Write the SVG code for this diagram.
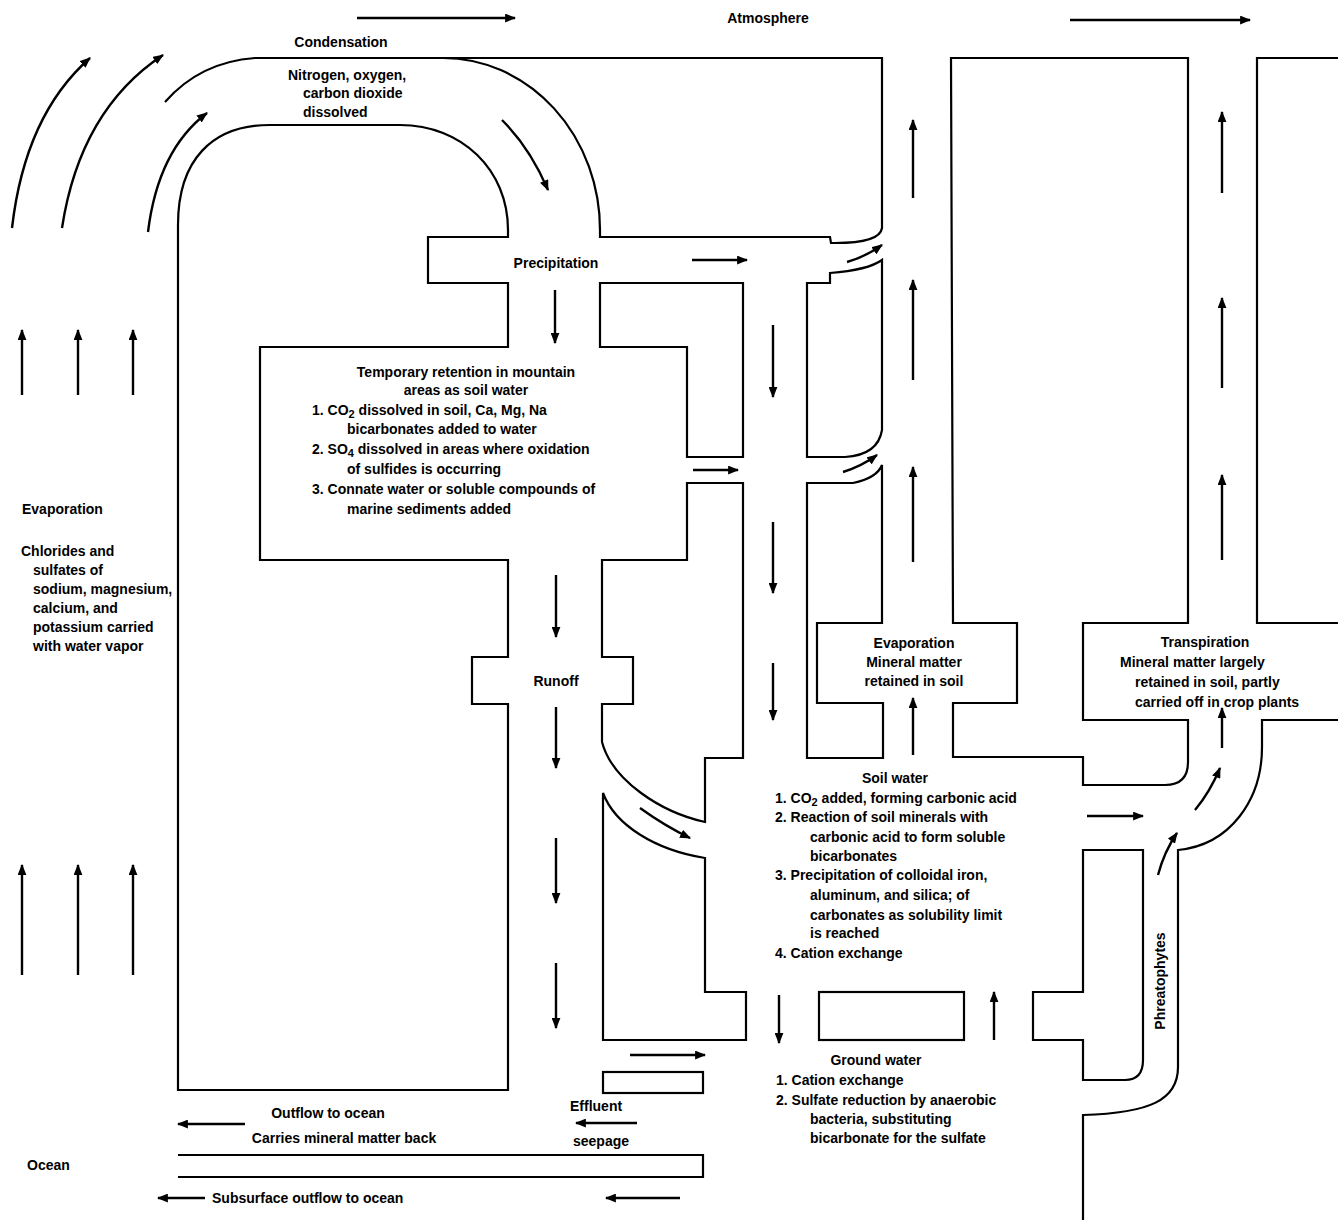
<svg xmlns="http://www.w3.org/2000/svg" width="1338" height="1220" viewBox="0 0 1338 1220">
<style>
.w{fill:none;stroke:#000;stroke-width:2.2;stroke-linejoin:miter}
.a{fill:none;stroke:#000;stroke-width:2.4;marker-end:url(#ah)}
text{font-family:"Liberation Sans",Arial,sans-serif;font-weight:bold;font-size:14px;fill:#000}
.m{text-anchor:middle}
.s{font-size:11px}
</style>
<defs>
<marker id="ah" viewBox="0 0 10 8" refX="9" refY="4" markerWidth="11" markerHeight="9" markerUnits="userSpaceOnUse" orient="auto"><path d="M0,0 L10,4 L0,8 z" fill="#000"/></marker>
</defs>
<rect width="1338" height="1220" fill="#fff"/>
<g id="walls">
<g id="outer-arch"><path class="w" d="M165,102 Q200,62 255,58 L882,58 L882,228 Q880,243 835,243 L831,243 L830,237 L600,237 L600,230 A157,172 0 0 0 443,58"/></g>
<g id="left-block"><path class="w" d="M508,1090 L178,1090 L178,225 C178,160 212,125 270,125 L400,125 C462,125 508,170 508,230 L508,237 L428,237 L428,283 L508,283 L508,347 L260,347 L260,560 L508,560 L508,657 L472,657 L472,704 L508,704 Z"/></g>
<g id="block-p"><path class="w" d="M600,283 L743,283 L743,457 L687,457 L687,347 L600,347 Z"/></g>
<g id="block-c"><path class="w" d="M807,283 L830,283 L830,273 Q868,270 882,260 L882,430 Q878,455 845,457 L807,457 Z"/></g>
<g id="block-d"><path class="w" d="M807,483 L853,483 Q877,478 882,465 L882,623 L817,623 L817,703 L883,703 L883,758 L807,758 Z"/></g>
<g id="block-e"><path class="w" d="M951,58 L1188,58 L1188,623 L1083,623 L1083,720 L1188,720 L1188,762 Q1188,785 1165,785 L1083,785 L1083,757 L953,757 L953,703 L1017,703 L1017,623 L953,623 Z"/></g>
<g id="block-f"><path class="w" d="M1338,58 L1257,58 L1257,623 L1338,623"/></g>
<g id="block-k"><path class="w" d="M687,483 L743,483 L743,758 L705,758 L705,822 C660,812 612,780 602,742 L602,704 L633,704 L633,657 L602,657 L602,560 L687,560 Z"/></g>
<g id="block-h"><path class="w" d="M603,793 C615,825 655,850 705,858 L705,992 L746,992 L746,1040 L603,1040 Z"/></g>
<g id="block-i"><rect class="w" x="819" y="992" width="145" height="48"/></g>
<g id="block-g"><path class="w" d="M1083,850 L1143,850 L1143,1060 Q1143,1080 1125,1080 L1083,1080 L1083,1040 L1033,1040 L1033,992 L1083,992 Z"/></g>
<g id="block-j"><path class="w" d="M1083,1220 L1083,1115 C1150,1113 1178,1100 1178,1067 L1178,850 C1230,845 1262,800 1262,747 L1262,720 L1338,720"/></g>
<g id="small-rect"><rect class="w" x="603" y="1072" width="100" height="21"/></g>
<g id="long-rect"><path class="w" d="M178,1155 L703,1155 L703,1177 L178,1177"/></g>
</g>
<g id="connectors">
<path class="a" d="M357,18 L515,18"/>
<path class="a" d="M1070,20 L1250,20"/>
<path class="a" d="M12,228 Q25,115 90,58"/>
<path class="a" d="M62,228 Q80,110 163,55"/>
<path class="a" d="M148,232 Q158,150 207,113"/>
<path class="a" d="M502,120 Q530,148 548,190"/>
<path class="a" d="M555,290 L555,343"/>
<path class="a" d="M692,260 L747,260"/>
<path class="a" d="M847,262 Q865,257 882,245"/>
<path class="a" d="M693,470 L738,470"/>
<path class="a" d="M843,472 Q862,466 877,455"/>
<path class="a" d="M773,325 L773,397"/>
<path class="a" d="M773,522 L773,593"/>
<path class="a" d="M773,663 L773,720"/>
<path class="a" d="M913,198 L913,120"/>
<path class="a" d="M913,380 L913,280"/>
<path class="a" d="M913,562 L913,467"/>
<path class="a" d="M913,755 L913,698"/>
<path class="a" d="M1222,193 L1222,112"/>
<path class="a" d="M1222,388 L1222,298"/>
<path class="a" d="M1222,560 L1222,475"/>
<path class="a" d="M1222,748 L1222,708"/>
<path class="a" d="M1087,816 L1143,816"/>
<path class="a" d="M1195,810 Q1210,792 1220,768"/>
<path class="a" d="M1158,875 Q1164,852 1177,833"/>
<path class="a" d="M556,575 L556,637"/>
<path class="a" d="M556,707 L556,768"/>
<path class="a" d="M556,838 L556,903"/>
<path class="a" d="M556,963 L556,1028"/>
<path class="a" d="M640,808 Q665,826 690,838"/>
<path class="a" d="M779,995 L779,1043"/>
<path class="a" d="M994,1040 L994,992"/>
<path class="a" d="M630,1055 L705,1055"/>
<path class="a" d="M637,1123 L576,1123"/>
<path class="a" d="M245,1124 L178,1124"/>
<path class="a" d="M205,1198 L158,1198"/>
<path class="a" d="M680,1198 L606,1198"/>
<path class="a" d="M22,395 L22,330"/>
<path class="a" d="M78,395 L78,330"/>
<path class="a" d="M133,395 L133,330"/>
<path class="a" d="M22,975 L22,865"/>
<path class="a" d="M78,975 L78,865"/>
<path class="a" d="M133,975 L133,865"/>
</g>
<g id="labels">
<text class="m" x="768" y="23">Atmosphere</text>
<text class="m" x="341" y="47">Condensation</text>
<text x="288" y="80">Nitrogen, oxygen,</text>
<text x="303" y="98">carbon dioxide</text>
<text x="303" y="117">dissolved</text>
<text class="m" x="556" y="268">Precipitation</text>
<text class="m" x="466" y="377">Temporary retention in mountain</text>
<text class="m" x="466" y="395">areas as soil water</text>
<text x="312" y="415">1. CO<tspan class="s" dy="3">2</tspan><tspan dy="-3"> dissolved in soil, Ca, Mg, Na</tspan></text>
<text x="347" y="434">bicarbonates added to water</text>
<text x="312" y="454">2. SO<tspan class="s" dy="3">4</tspan><tspan dy="-3"> dissolved in areas where oxidation</tspan></text>
<text x="347" y="474">of sulfides is occurring</text>
<text x="312" y="494">3. Connate water or soluble compounds of</text>
<text x="347" y="514">marine sediments added</text>
<text class="m" x="556" y="686">Runoff</text>
<text class="m" x="914" y="648">Evaporation</text>
<text class="m" x="914" y="667">Mineral matter</text>
<text class="m" x="914" y="686">retained in soil</text>
<text class="m" x="1205" y="647">Transpiration</text>
<text x="1120" y="667">Mineral matter largely</text>
<text x="1135" y="687">retained in soil, partly</text>
<text x="1135" y="707">carried off in crop plants</text>
<text class="m" x="895" y="783">Soil water</text>
<text x="775" y="803">1. CO<tspan class="s" dy="3">2</tspan><tspan dy="-3"> added, forming carbonic acid</tspan></text>
<text x="775" y="822">2. Reaction of soil minerals with</text>
<text x="810" y="842">carbonic acid to form soluble</text>
<text x="810" y="861">bicarbonates</text>
<text x="775" y="880">3. Precipitation of colloidal iron,</text>
<text x="810" y="900">aluminum, and silica; of</text>
<text x="810" y="920">carbonates as solubility limit</text>
<text x="810" y="938">is reached</text>
<text x="775" y="958">4. Cation exchange</text>
<text class="m" x="876" y="1065">Ground water</text>
<text x="776" y="1085">1. Cation exchange</text>
<text x="776" y="1105">2. Sulfate reduction by anaerobic</text>
<text x="810" y="1124">bacteria, substituting</text>
<text x="810" y="1143">bicarbonate for the sulfate</text>
<text x="570" y="1111">Effluent</text>
<text x="573" y="1146">seepage</text>
<text class="m" x="328" y="1118">Outflow to ocean</text>
<text class="m" x="344" y="1143">Carries mineral matter back</text>
<text x="27" y="1170">Ocean</text>
<text x="212" y="1203">Subsurface outflow to ocean</text>
<text x="22" y="514">Evaporation</text>
<text x="21" y="556">Chlorides and</text>
<text x="33" y="575">sulfates of</text>
<text x="33" y="594">sodium, magnesium,</text>
<text x="33" y="613">calcium, and</text>
<text x="33" y="632">potassium carried</text>
<text x="33" y="651">with water vapor</text>
<text class="m" transform="translate(1165,981) rotate(-90)">Phreatophytes</text>
</g>
</svg>
